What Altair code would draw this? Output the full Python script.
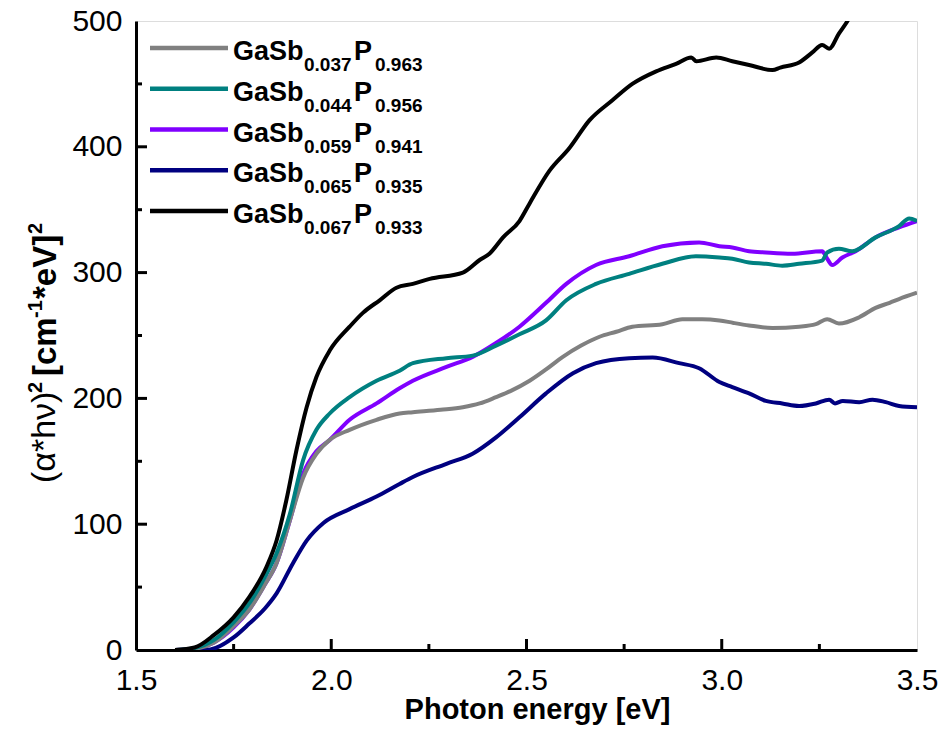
import altair as alt
import pandas as pd

# ---------------- data ----------------
E_gray = [1.60, 1.65, 1.70, 1.75, 1.79, 1.83, 1.86, 1.894, 1.928, 1.962, 1.996, 2.047, 2.116, 2.175,
          2.209, 2.28, 2.337, 2.38, 2.422, 2.46, 2.508, 2.55, 2.593, 2.64, 2.687, 2.73, 2.771, 2.848,
          2.899, 2.95, 2.994, 3.03, 3.07, 3.13, 3.198, 3.241, 3.27, 3.30, 3.352, 3.394, 3.43, 3.454, 3.50]
V_gray = [0, 1, 6, 19, 32, 52, 69, 103, 137, 156, 167, 175, 183, 188,
          189, 191, 193, 196, 201, 206, 214, 223, 233, 242, 249, 253, 257, 259,
          263, 263, 262, 260, 258, 256, 257, 259, 263, 259.5, 264.5, 272, 276, 279, 284]

E_teal = [1.60, 1.65, 1.70, 1.75, 1.79, 1.83, 1.86, 1.894, 1.928, 1.962, 1.996, 2.047, 2.116, 2.175,
          2.209, 2.295, 2.362, 2.422, 2.482, 2.55, 2.602, 2.678, 2.763, 2.848, 2.934, 2.994, 3.027,
          3.07, 3.113, 3.155, 3.198, 3.257, 3.27, 3.30, 3.334, 3.394, 3.454, 3.48, 3.50]
V_teal = [0, 1.5, 8, 22, 37, 58, 77, 108, 151, 175, 188, 201, 214, 222,
          228, 232, 234, 242, 251, 262, 278, 291, 299, 307, 313, 312, 311,
          308, 307, 305.5, 307, 309.5, 316, 319, 317, 328, 337, 343, 341]

E_purple = [1.60, 1.65, 1.70, 1.75, 1.79, 1.83, 1.86, 1.894, 1.928, 1.962, 1.996, 2.047, 2.116, 2.175,
            2.209, 2.295, 2.362, 2.422, 2.482, 2.55, 2.602, 2.678, 2.763, 2.848, 2.942, 2.994, 3.027,
            3.07, 3.113, 3.18, 3.257, 3.27, 3.283, 3.309, 3.343, 3.394, 3.454, 3.50]
V_purple = [0, 1, 6, 18, 32, 52, 69, 103, 140, 158, 167, 183, 196, 208,
            214, 225, 233, 244, 257, 276, 291, 306, 313, 321, 324, 321, 320,
            317, 316, 315, 317, 311, 306, 312, 317, 328, 336, 341]

E_navy = [1.65, 1.69, 1.75, 1.79, 1.83, 1.86, 1.902, 1.937, 1.98, 2.047, 2.116, 2.175, 2.209, 2.295,
          2.362, 2.422, 2.482, 2.55, 2.619, 2.678, 2.763, 2.823, 2.891, 2.942, 2.994, 3.027, 3.07,
          3.113, 3.155, 3.198, 3.241, 3.275, 3.29, 3.31, 3.352, 3.386, 3.42, 3.454, 3.50]
V_navy = [0, 0.5, 10, 21, 33, 45, 69, 87, 101, 112, 122, 132, 137.5, 148,
          156, 169, 185, 204, 220, 228, 232, 232.5, 228, 224, 213, 209, 204,
          198, 196, 194, 196, 199, 196, 198, 197, 199, 197, 194, 193]

E_black = [1.60, 1.65, 1.70, 1.75, 1.79, 1.834, 1.86, 1.885, 1.911, 1.937, 1.962, 1.996, 2.047, 2.081,
           2.124, 2.167, 2.209, 2.252, 2.337, 2.38, 2.405, 2.44, 2.482, 2.508, 2.559, 2.61, 2.661,
           2.72, 2.771, 2.832, 2.883, 2.922, 2.935, 2.986, 3.027, 3.07, 3.13, 3.15, 3.198, 3.232,
           3.257, 3.275, 3.30, 3.32, 3.34, 3.36]
V_black = [0, 2, 12, 26, 42, 66, 87, 119, 159, 193, 217, 238, 257, 268,
           278, 288, 291, 295, 300, 310, 315, 328, 341, 355, 381, 399, 421,
           437, 450, 460, 466, 471, 468, 471, 468, 465, 461, 463, 467, 475,
           481, 478, 490, 499, 510, 520]

names = ["GaSb0.037P0.963", "GaSb0.044P0.956", "GaSb0.059P0.941", "GaSb0.065P0.935", "GaSb0.067P0.933"]
sub_sb = ["0.037", "0.044", "0.059", "0.065", "0.067"]
sub_p = ["0.963", "0.956", "0.941", "0.935", "0.933"]
colors = ["#808080", "#008080", "#8000FF", "#000080", "#000000"]
series_E = [E_gray, E_teal, E_purple, E_navy, E_black]
series_V = [V_gray, V_teal, V_purple, V_navy, V_black]

x_major = [1.5, 2.0, 2.5, 3.0, 3.5]
x_minor = [1.75, 2.25, 2.75, 3.25]
y_major = [0, 100, 200, 300, 400, 500]
y_minor = [50, 150, 250, 350, 450]

# ---------------- layout ----------------
W, H = 781, 629
OX, OY = 136, 21           # screen position of plot origin
FONT = "Liberation Sans"

xs = alt.Scale(domain=[1.5, 3.5], nice=False, zero=False)
ys = alt.Scale(domain=[0, 500], nice=False, zero=False)

x_axis = alt.Axis(values=x_major, format=".1f", ticks=False, grid=False, labelFlush=False,
                  labelFontSize=30, labelFont=FONT, labelPadding=15, labelColor="black",
                  domainColor="black", domainWidth=3,
                  title="Photon energy [eV]", titleFont=FONT, titleFontSize=29,
                  titleFontWeight="bold", titleColor="black", titleBaseline="alphabetic",
                  titleX=401, titleY=68)
y_axis = alt.Axis(values=y_major, format="d", ticks=False, grid=False,
                  labelFontSize=30, labelFont=FONT, labelPadding=14, labelColor="black",
                  domainColor="black", domainWidth=3, title=None)

layers = []

# curves, drawn in an order that puts gray/teal over purple and black on top
draw_order = [2, 3, 0, 1, 4]
first = True
for i in draw_order:
    df = pd.DataFrame({"E": series_E[i], "v": series_V[i]})
    if first:
        enc_x = alt.X("E:Q", scale=xs, axis=x_axis)
        enc_y = alt.Y("v:Q", scale=ys, axis=y_axis)
        first = False
    else:
        enc_x = alt.X("E:Q", scale=xs)
        enc_y = alt.Y("v:Q", scale=ys)
    layers.append(
        alt.Chart(df).mark_line(color=colors[i], strokeWidth=4, clip=True,
                                interpolate="monotone").encode(x=enc_x, y=enc_y)
    )

# inward tick marks
def xticks(vals, length):
    return alt.Chart(pd.DataFrame({"t": vals})).mark_rule(color="black", strokeWidth=3).encode(
        x=alt.X("t:Q", scale=xs), y=alt.value(H), y2=alt.value(H - length))

def yticks(vals, length):
    return alt.Chart(pd.DataFrame({"t": vals})).mark_rule(color="black", strokeWidth=3).encode(
        y=alt.Y("t:Q", scale=ys), x=alt.value(0), x2=alt.value(length))

layers += [xticks(x_major[1:-1], 11), xticks(x_minor, 6),
           yticks(y_major[1:-1], 11), yticks(y_minor, 6)]

one = pd.DataFrame({"a": [0]})

def txt(s, sx, sy, size, bold=True, align="left", angle=0):
    kw = dict(text=s, font=FONT, fontSize=size, fontWeight="bold" if bold else "normal",
              color="black", align=align, baseline="alphabetic")
    if angle:
        kw["angle"] = angle
    return alt.Chart(one).mark_text(**kw).encode(x=alt.value(sx - OX), y=alt.value(sy - OY))

# legend
for k in range(5):
    ly = 48 + 40.75 * k
    bl = ly + 12
    layers.append(alt.Chart(one).mark_rule(color=colors[k], strokeWidth=4.5).encode(
        x=alt.value(150 - OX), x2=alt.value(228 - OX), y=alt.value(ly - OY)))
    layers.append(txt("GaSb", 233, bl, 27))
    layers.append(txt(sub_sb[k], 304, bl + 11, 19))
    layers.append(txt("P", 354, bl, 27))
    layers.append(txt(sub_p[k], 375, bl + 11, 19))

# y-axis title (rotated, mixed fonts with superscripts)
layers += [
    txt("(α*hν)", 55, 483, 34, bold=False, angle=270),
    txt("2", 42, 393, 20, angle=270),
    txt("[cm", 56, 376, 33, angle=270),
    txt("-1", 42, 318, 20, angle=270),
    txt("*eV]", 56, 299, 33, angle=270),
    txt("2", 42, 234, 20, angle=270),
]

chart = alt.layer(*layers).properties(
    width=W, height=H,
    autosize=alt.AutoSizeParams(type="none"),
    padding={"left": OX, "top": OY, "right": 945 - OX - W, "bottom": 729 - OY - H},
).configure_view(stroke="black", strokeWidth=3).configure(background="white")

chart.save("out.html", embed_options={"renderer": "svg", "actions": False})
